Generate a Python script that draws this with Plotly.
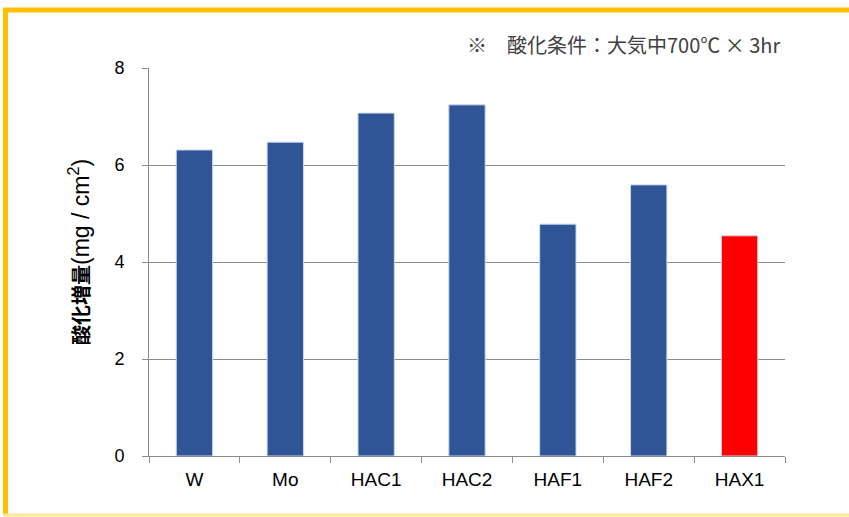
import plotly.graph_objects as go

categories = ["W", "Mo", "HAC1", "HAC2", "HAF1", "HAF2", "HAX1"]
gain = [6.31, 6.47, 7.07, 7.24, 4.78, 5.59, 4.54]
bar_colors = ["#2F5597"] * 6 + ["#FF0000"]

fig = go.Figure(go.Bar(
    x=categories, y=gain,
    marker=dict(color=bar_colors, line=dict(color="#C9D6EE", width=1)),
))

# plot area: x 149..785, y 68..456 in pixels
pw, ph = 636, 388
def px_x(p):
    return (p - 149) / pw
def px_y(p):
    return (456 - p) / ph

# orange frame (right edge runs off the picture)
fig.add_shape(type="line", xref="paper", yref="paper",
              x0=px_x(5.5), x1=px_x(5.5), y0=px_y(515), y1=px_y(8),
              line=dict(color="#FFC000", width=5), layer="above")
fig.add_shape(type="line", xref="paper", yref="paper",
              x0=px_x(3), x1=px_x(900), y0=px_y(10), y1=px_y(10),
              line=dict(color="#FFC000", width=5), layer="above")
fig.add_shape(type="line", xref="paper", yref="paper",
              x0=px_x(3), x1=px_x(900), y0=px_y(515), y1=px_y(515),
              line=dict(color="#FFE699", width=3), layer="above")

fig.add_annotation(text="※　酸化条件：大気中700℃ × 3hr",
                   xref="paper", yref="paper", x=px_x(783), y=px_y(44),
                   xanchor="right", yanchor="middle", showarrow=False,
                   font=dict(family="Noto Sans CJK JP", size=20, color="#404040"))

# y axis title
fig.add_annotation(
    text="<span style='font-size:20px'><b>酸化増量</b></span>(mg / cm<sup>2</sup>)",
    xref="paper", yref="paper", x=px_x(79), y=px_y(252),
    xanchor="center", yanchor="middle", textangle=-90, showarrow=False,
    font=dict(family="Liberation Sans, Noto Sans CJK JP", size=23, color="#000000"))

fig.update_layout(
    width=849, height=517,
    margin=dict(l=149, r=64, t=68, b=61),
    paper_bgcolor="white", plot_bgcolor="white",
    bargap=0.6, showlegend=False,
    font=dict(family="Liberation Sans, Arial", size=18, color="#000000"),
)
fig.update_xaxes(showline=True, linecolor="#8C8C8C", linewidth=1,
                 ticks="outside", ticklen=6, tickcolor="#8C8C8C",
                 tickson="boundaries", showgrid=False,
                 tickfont=dict(size=19), ticklabelstandoff=6)
fig.update_yaxes(range=[0, 8], dtick=2, showline=True, linecolor="#8C8C8C",
                 linewidth=1, ticks="outside", ticklen=6, tickcolor="#8C8C8C",
                 showgrid=True, gridcolor="#8C8C8C", gridwidth=1,
                 zeroline=False, tickfont=dict(size=18), ticklabelstandoff=14)

fig.write_html("out.html", config={"displayModeBar": False},
               post_script="document.body.style.margin='0';")
